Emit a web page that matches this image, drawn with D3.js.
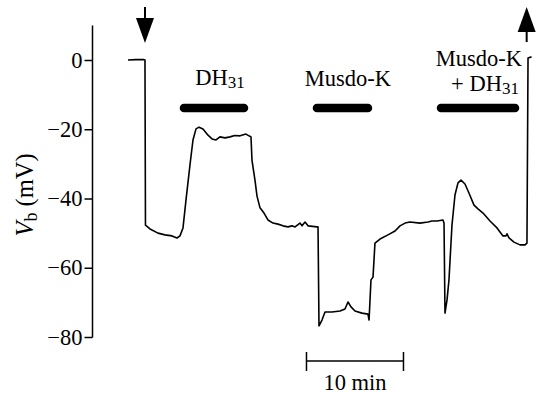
<!DOCTYPE html>
<html>
<head>
<meta charset="utf-8">
<script src="https://cdn.jsdelivr.net/npm/d3@7"></script>
<style>
  body { margin: 0; background: #fff; }
  svg text { font-family: "Liberation Serif", "Times New Roman", serif; fill: #000; }
</style>
</head>
<body>
<div id="chart"></div>
<script>
'use strict';

// trace: time (min) and Vb (mV)
const traceT = [0, 0.82, 1.65, 1.75, 1.8, 2.27, 3.09, 3.81, 4.54, 5.05, 5.36, 5.67, 5.98, 6.39, 6.7, 7.01, 7.32, 7.73, 8.25, 8.66, 9.07, 9.48, 10.0, 10.52, 11.0, 11.55, 12.16, 12.47, 12.68,
  12.78, 13.09, 13.3, 13.61, 14.02, 14.43, 14.95, 15.46, 15.98, 16.49, 16.91, 17.22, 17.73, 17.94, 18.25, 18.56, 19.48, 19.59,
  19.69, 20.0, 20.31, 21.03, 21.86, 22.37, 22.68, 22.99, 23.4, 24.12, 24.74, 24.85, 24.95, 25.05, 25.26, 25.46, 25.98, 26.8,
  27.53, 28.04, 28.56, 29.07, 30.1, 30.93, 31.34, 31.86, 32.47, 32.58, 32.68, 32.89, 33.09, 33.4, 33.71, 34.02, 34.33, 34.74,
  35.15, 35.67, 36.08, 36.6, 37.32, 38.04, 38.66, 38.97, 39.07, 39.28, 39.79, 40.41, 40.93, 41.13, 41.24, 41.6]
const traceV = [0, 0.1, 0.1, 0, -47.7, -48.8, -50.0, -50.5, -50.8, -51.4, -50.8, -48.5, -40.4, -30.3, -23.1, -19.9, -19.4, -19.9, -21.7, -22.8, -23.1, -22.2, -22.5, -22.2, -21.8, -21.9, -21.4, -21.9, -22.2,
  -28.9, -34.7, -39.3, -42.7, -44.2, -46.2, -47.1, -47.4, -47.9, -48.2, -47.9, -48.2, -47.1, -47.9, -46.8, -47.9, -48.2, -48.2,
  -76.8, -75.1, -72.8, -72.8, -72.5, -71.9, -69.9, -71.3, -72.5, -73.1, -73.4, -75.1, -69.3, -63.5, -62.7, -52.9, -51.7, -50.5,
  -49.4, -47.9, -47.1, -46.8, -47.1, -46.8, -46.5, -46.5, -46.2, -47.1, -73.1, -69.3, -63.5, -47.7, -39.0, -35.5, -34.7, -35.8,
  -38.4, -41.9, -43.0, -44.2, -46.5, -48.5, -50.8, -50.8, -50.2, -51.4, -52.6, -53.4, -53.4, -52.9, 0.6, 0.9]

const yTicks = [0, -20, -40, -60, -80]
const yTickLabels = ['0', '\u221220', '\u221240', '\u221260', '\u221280']

// application bars (start, end in min)
const barStart = [5.77, 19.48, 32.27]
const barEnd = [11.96, 24.74, 39.9]

// arrows: down at start, up at end
const arrowT = [1.75, 41.1]
const arrowDir = ['down', 'up']

const scaleBarStart = 18.4
const scaleBarLen = 10

const width = 536, height = 395
const fs = 22.5

var x = d3.scaleLinear().domain([0, 10]).range([128, 225])
var y = d3.scaleLinear().domain([0, -80]).range([60, 337])

var svg = d3.select('#chart').append('svg')
    .attr('width', width)
    .attr('height', height)

// y axis
var yAxis = d3.axisLeft(y)
    .tickValues(yTicks)
    .tickFormat((d, i) => yTickLabels[i])
    .tickSize(8)
    .tickSizeOuter(0)

var gy = svg.append('g')
    .attr('transform', 'translate(92.5,0)')
    .call(yAxis)
gy.select('.domain').remove()
gy.selectAll('.tick line').attr('stroke', '#000').attr('stroke-width', 1.5)
gy.selectAll('.tick text')
    .attr('x', -10)
    .attr('font-size', fs)
    .attr('font-family', '"Liberation Serif", serif')
gy.append('line')
    .attr('x1', 0).attr('x2', 0)
    .attr('y1', y(10)).attr('y2', y(-80) + 0.5)
    .attr('stroke', '#000').attr('stroke-width', 1.5)

// y label
var yl = svg.append('text')
    .attr('transform', 'translate(33,195) rotate(-90)')
    .attr('text-anchor', 'middle')
    .attr('font-size', 24.5)
yl.append('tspan').attr('font-style', 'italic').text('V')
yl.append('tspan').attr('font-size', 18).attr('dy', 4).text('b')
yl.append('tspan').attr('dy', -4).text(' (mV)')

// trace
var line = d3.line()
    .x(d => x(d[0]))
    .y(d => y(d[1]))

svg.append('path')
    .datum(traceT.map((t, i) => [t, traceV[i]]))
    .attr('d', line)
    .attr('fill', 'none')
    .attr('stroke', '#000')
    .attr('stroke-width', 1.6)
    .attr('stroke-linejoin', 'round')

// application bars
svg.selectAll('.bar')
    .data(barStart)
    .enter().append('line')
    .attr('class', 'bar')
    .attr('x1', d => x(d))
    .attr('x2', (d, i) => x(barEnd[i]))
    .attr('y1', 108).attr('y2', 108)
    .attr('stroke', '#000')
    .attr('stroke-width', 8.5)
    .attr('stroke-linecap', 'round')

// labels
function dh31(sel) {
  sel.append('tspan').text('DH')
  sel.append('tspan').attr('font-size', 17).attr('dy', 3).text('31')
}
var l1 = svg.append('text').attr('x', 220).attr('y', 85).attr('text-anchor', 'middle').attr('font-size', fs)
dh31(l1)
svg.append('text').attr('x', 348).attr('y', 86).attr('text-anchor', 'middle').attr('font-size', fs).text('Musdo-K')
svg.append('text').attr('x', 479).attr('y', 66).attr('text-anchor', 'middle').attr('font-size', fs).text('Musdo-K')
var l3 = svg.append('text').attr('x', 485).attr('y', 91).attr('text-anchor', 'middle').attr('font-size', fs)
l3.append('tspan').text('+ ')
dh31(l3)

// arrows
arrowT.forEach((t, i) => {
  var ax = x(t)
  var g = svg.append('g')
  if (arrowDir[i] === 'down') {
    g.append('line').attr('x1', ax).attr('x2', ax).attr('y1', 7).attr('y2', 25).attr('stroke', '#000').attr('stroke-width', 2)
    g.append('path').attr('d', `M${ax - 9},18 L${ax + 9},18 L${ax},43 Z`).attr('fill', '#000')
  } else {
    g.append('line').attr('x1', ax).attr('x2', ax).attr('y1', 25).attr('y2', 42).attr('stroke', '#000').attr('stroke-width', 2)
    g.append('path').attr('d', `M${ax - 9},32 L${ax + 9},32 L${ax},7 Z`).attr('fill', '#000')
  }
})

// 10 min scale bar
var sb = svg.append('g').attr('stroke', '#000').attr('stroke-width', 1.5)
var sx0 = x(scaleBarStart), sx1 = x(scaleBarStart + scaleBarLen)
sb.append('line').attr('x1', sx0).attr('x2', sx1).attr('y1', 361).attr('y2', 361)
sb.append('line').attr('x1', sx0).attr('x2', sx0).attr('y1', 352).attr('y2', 371)
sb.append('line').attr('x1', sx1).attr('x2', sx1).attr('y1', 352).attr('y2', 371)
svg.append('text').attr('x', (sx0 + sx1) / 2).attr('y', 390).attr('text-anchor', 'middle').attr('font-size', fs).text('10 min')
</script>
</body>
</html>
